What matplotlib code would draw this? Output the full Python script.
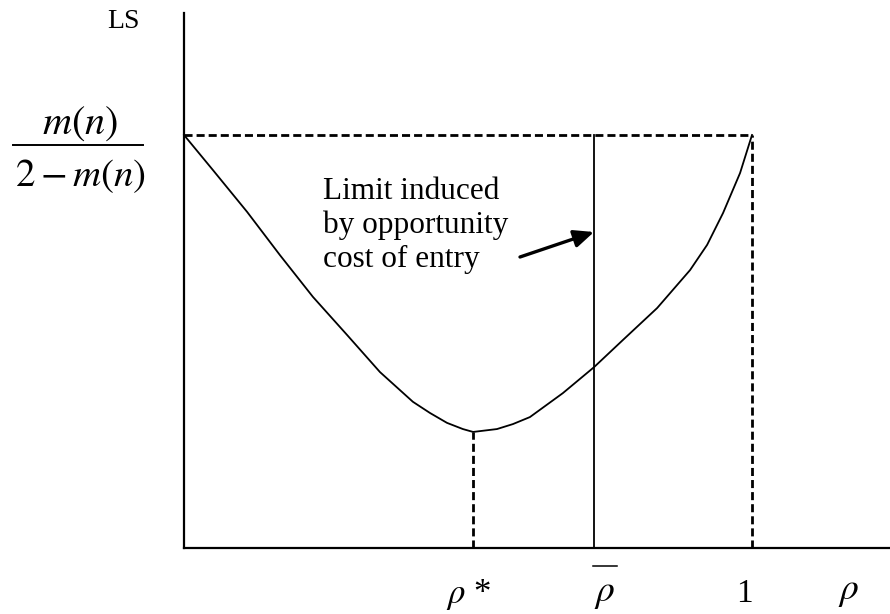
import matplotlib
matplotlib.use("Agg")
import matplotlib.pyplot as plt
from matplotlib.lines import Line2D

plt.rcParams['font.family'] = 'serif'
plt.rcParams['font.serif'] = ['Liberation Serif', 'DejaVu Serif']
plt.rcParams['mathtext.fontset'] = 'stix'

# curve LS(rho) (rho = 1 at the right dashed line, LS = 1 at the dashed top line)
rho = [0.0, 0.051, 0.111, 0.169, 0.227, 0.287, 0.345, 0.403, 0.433, 0.463,
       0.491, 0.509, 0.551, 0.579, 0.609, 0.667, 0.722, 0.773, 0.833, 0.891,
       0.921, 0.949, 0.979, 1.0]
ls = [1.0, 0.915, 0.814, 0.709, 0.608, 0.516, 0.426, 0.354, 0.327, 0.303,
      0.288, 0.281, 0.288, 0.300, 0.317, 0.375, 0.438, 0.504, 0.581, 0.673,
      0.734, 0.811, 0.908, 1.0]

rho_star = 0.509   # minimum of the curve
ls_min = 0.281
rho_bar = 0.722    # limit induced by opportunity cost of entry
rho_one = 1.0
ls_top = 1.0

W, H = 890, 614


def fxy(x, y):
    # pixel position -> figure fraction (for the labels only)
    return x / W, 1 - y / H


fig = plt.figure(figsize=(W / 100, H / 100), dpi=100)
fig.patch.set_facecolor('white')
ax = fig.add_axes([184 / W, (H - 548) / H, (W - 184) / W, (548 - 13) / H])
ax.set_xlim(0, (W - 184) / 568)
ax.set_ylim(0, (548 - 13) / 413)
for side in ['top', 'right']:
    ax.spines[side].set_visible(False)
for side in ['left', 'bottom']:
    ax.spines[side].set_linewidth(1.6)
ax.set_xticks([])
ax.set_yticks([])

# the curve
ax.plot(rho, ls, color='black', lw=1.3, solid_joinstyle='round', clip_on=False)

# dashed guides
dash = dict(color='black', lw=2.0, dashes=(2.9, 1.45))
ax.plot([0, rho_one], [ls_top, ls_top], **dash)
ax.plot([rho_one, rho_one], [0, ls_top], **dash)
ax.plot([rho_star, rho_star], [0, ls_min], **dash)

# solid vertical limit
ax.plot([rho_bar, rho_bar], [0, ls_top], color='black', lw=1.3)

# annotation text + arrow
fig.text(*fxy(323, 177), 'Limit induced\nby opportunity\ncost of entry', fontsize=22.5,
         ha='left', va='top', linespacing=1.22)
ax.annotate('', xy=fxy(594, 232), xycoords='figure fraction',
            xytext=fxy(520, 257), textcoords='figure fraction',
            arrowprops=dict(arrowstyle='-|>,head_length=0.5,head_width=0.22',
                            mutation_scale=24, lw=2.4, color='black',
                            shrinkA=0, shrinkB=0))

# y axis labels
fig.text(*fxy(123, 22), 'LS', fontsize=20, ha='center', va='center')
fig.text(*fxy(80, 124), '$m(n)$', fontsize=29, ha='center', va='center')
fig.text(*fxy(80, 176), '$2-m(n)$', fontsize=28, ha='center', va='center')
fig.add_artist(Line2D([13 / W, 143 / W], [1 - 145 / H] * 2,
                      transform=fig.transFigure, color='black', lw=1.4))

# x axis labels
fig.text(*fxy(469, 594), r'$\rho$ *', fontsize=25, ha='center', va='center')
fig.text(*fxy(605, 594), r'$\rho$', fontsize=27, ha='center', va='center')
fig.add_artist(Line2D([593 / W, 617 / W], [1 - 566 / H] * 2,
                      transform=fig.transFigure, color='black', lw=1.1))
fig.text(*fxy(744, 594), '1', fontsize=24, ha='center', va='center')
fig.text(*fxy(849, 592), r'$\rho$', fontsize=27, ha='center', va='center')

fig.savefig('out.png', dpi=100)
